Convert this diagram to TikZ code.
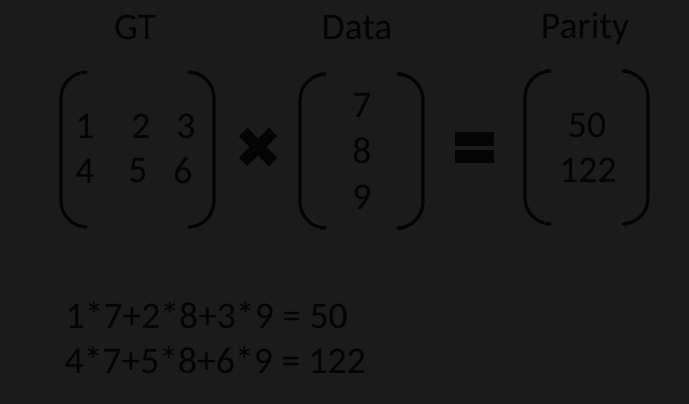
\documentclass[tikz,border=0pt]{standalone}
\usepackage{fontspec}
\setmainfont{Carlito}
\usetikzlibrary{positioning}
\definecolor{bgdark}{RGB}{27,27,27}
\definecolor{ink}{RGB}{4,4,4}
\begin{document}
\begin{tikzpicture}[x=0.01cm, y=-0.01cm,
	every node/.style={text=ink, inner sep=0pt, font=\fontsize{10.7}{12}\selectfont},
	bracket/.style={draw=ink, line width=0.9pt, rounded corners=0.26cm}]
	\fill[bgdark] (0,0) rectangle (689,404);

	% titles
	\node[anchor=base] (gt) at (135,40) {GT};
	\node[anchor=base] (data) at (357,40) {Data};
	\node[anchor=base] (parity) at (585,39) {Parity};

	% GT matrix
	\draw[bracket] (87,72) -- (61,72) -- (61,227) -- (87,227);
	\draw[bracket] (188,72) -- (214,72) -- (214,227) -- (188,227);
	\node (g11) at (85,126) {1};
	\node (g12) at (141,126) {2};
	\node (g13) at (186,126) {3};
	\node (g21) at (85,171) {4};
	\node (g22) at (138,171) {5};
	\node (g23) at (183,171) {6};

	% times
	\begin{scope}[draw=ink, line width=0.12cm]
		\draw (243,132) -- (273,162);
		\draw (243,162) -- (273,132);
	\end{scope}

	% data vector
	\draw[bracket] (320,74) -- (300,74) -- (300,228) -- (320,228);
	\draw[bracket] (403,74) -- (423,74) -- (423,228) -- (403,228);
	\node (d1) at (362,105) {7};
	\node (d2) at (362,151) {8};
	\node (d3) at (362,197) {9};

	% equals
	\fill[ink] (455,132) rectangle (494,146);
	\fill[ink] (455,150) rectangle (494,163);

	% parity vector
	\draw[bracket] (546,71) -- (525,71) -- (525,224) -- (546,224);
	\draw[bracket] (627,71) -- (648,71) -- (648,224) -- (627,224);
	\node (p1) at (587,125) {50};
	\node (p2) at (588,170) {122};

	% sums
	\node[anchor=base west] (s1) at (65,328) {1*7+2*8+3*9 = 50};
	\node[anchor=base west] (s2) at (64,373) {4*7+5*8+6*9 = 122};
\end{tikzpicture}
\end{document}
